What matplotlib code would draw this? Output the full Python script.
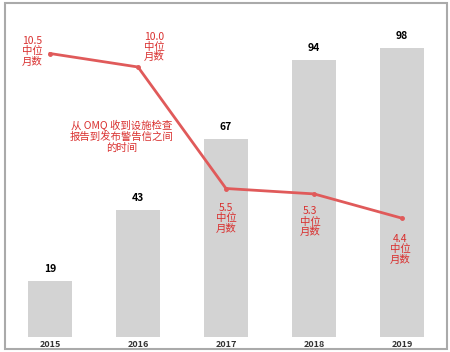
import numpy as np
import matplotlib
matplotlib.use("Agg")
import matplotlib.pyplot as plt
from matplotlib.patches import Rectangle

plt.rcParams['font.family'] = ['Noto Sans CJK SC', 'DejaVu Sans']

years = ["2015", "2016", "2017", "2018", "2019"]
counts = [19, 43, 67, 94, 98]
months = [10.5, 10.0, 5.5, 5.3, 4.4]
month_labels = ["10.5\n中位\n月数", "10.0\n中位\n月数", "5.5\n中位\n月数",
                "5.3\n中位\n月数", "4.4\n中位\n月数"]
# label offsets in pixels from each line point
offsets = [(-18, 2), (16, 20), (0, -30), (-4, -28), (-2, -31)]
note = "从 OMQ 收到设施检查\n报告到发布警告信之间\n的时间"

W, H = 450, 352
fig = plt.figure(figsize=(W / 100, H / 100), dpi=100)
ax = fig.add_axes([6 / W, 15 / H, 440 / W, 332 / H])
x = np.arange(len(years))

ax.bar(x, counts, width=0.5, color="#d3d3d3", zorder=1)
ax.set_xlim(-0.5, 4.5)
ax.set_ylim(0, 332 / 2.95)
for xi, c in zip(x, counts):
    ax.annotate(str(c), (xi, c), xytext=(0, 12), textcoords="offset pixels",
                ha="center", va="center", fontsize=7.5, fontweight="bold",
                color="black",
                bbox=dict(boxstyle="square,pad=0.4", fc="white", ec="none"))

ax.set_xticks(x)
ax.set_xticklabels(years, fontsize=6.5, fontweight="bold", color="#333333")
ax.tick_params(axis="x", length=0, pad=2)
ax.set_yticks([])
for s in ax.spines.values():
    s.set_visible(False)

ax2 = ax.twinx()
ax2.set_ylim(0, 332 / 27.0)
ax2.plot(x, months, color="#e05a5a", lw=2, marker="o", markersize=2.5, zorder=3)
for xi, m, lab, off in zip(x, months, month_labels, offsets):
    ax2.annotate(lab, (xi, m), xytext=off, textcoords="offset pixels",
                 ha="center", va="center", fontsize=7.5, color="#d9302f",
                 linespacing=1.05)
ax2.set_yticks([])
for s in ax2.spines.values():
    s.set_visible(False)

fig.text(122 / W, 1 - 136 / H, note, ha="center", va="center", fontsize=7.5,
         color="#d9302f", linespacing=1.1)

fig.patches.append(Rectangle((5 / W, 3 / H), 442 / W, 346 / H,
                             transform=fig.transFigure, fill=False,
                             ec="#aaaaaa", lw=1.5))

fig.savefig("out.png", dpi=100)
